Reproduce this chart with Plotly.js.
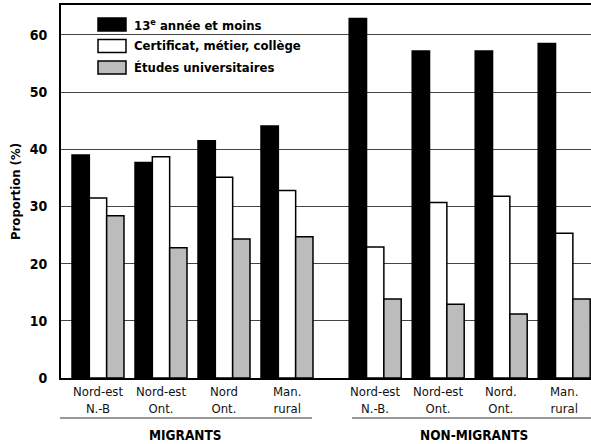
<!DOCTYPE html>
<html>
<head>
<meta charset="utf-8">
<script src="https://cdn.plot.ly/plotly-3.0.1.min.js"></script>
<style>
html,body{margin:0;padding:0;background:#fff;}
#chart{width:591px;height:444px;}
</style>
</head>
<body>
<div id="chart"></div>
<script>
// ---- data ----
const regionLine1 = ["Nord-est","Nord-est","Nord","Man.","Nord-est","Nord-est","Nord.","Man."];
const regionLine2 = ["N.-B","Ont.","Ont.","rural","N.-B.","Ont.","Ont.","rural"];
const xPos = [0, 1, 2, 3, 4.4, 5.4, 6.4, 7.4];
const groupNames = ["MIGRANTS", "NON-MIGRANTS"];
const seriesNames = ["13<sup>e</sup> année et moins", "Certificat, métier, collège", "Études universitaires"];
const secondaire = [39.0, 37.7, 41.5, 44.1, 62.9, 57.2, 57.2, 58.5];
const certificat = [31.5, 38.7, 35.1, 32.8, 22.9, 30.7, 31.8, 25.3];
const universite = [28.4, 22.8, 24.3, 24.7, 13.8, 12.9, 11.2, 13.8];
const yTicks = [0, 10, 20, 30, 40, 50, 60];

// ---- style ----
const FONT = "'DejaVu Sans Condensed', 'Liberation Sans Narrow', 'Arial Narrow', sans-serif";
const fills = ["#000000", "#ffffff", "#bcbcbc"];
const seriesVals = [secondaire, certificat, universite];

const L = 61, T = 5, W = 591, H = 444, B = 378;
const PW = W - L, PH = B - T;
const px2x = p => (p - L) / PW;
const px2y = p => (B - p) / PH;

const traces = seriesVals.map((vals, i) => ({
  type: "bar",
  x: xPos,
  y: vals,
  name: seriesNames[i],
  marker: { color: fills[i], line: { color: "#000", width: 1.5 } },
  showlegend: false,
  hoverinfo: "skip"
}));

const shapes = [];
const annotations = [];

// legend (drawn manually)
const legY = [24.5, 46, 67.5];
seriesNames.forEach((n, i) => {
  shapes.push({ type: "rect", xref: "paper", yref: "paper",
    x0: px2x(98), x1: px2x(126), y0: px2y(legY[i] + 6.5), y1: px2y(legY[i] - 6.5),
    fillcolor: fills[i], line: { color: "#000", width: 1.5 } });
  annotations.push({ xref: "paper", yref: "paper", x: px2x(132), y: px2y(legY[i]),
    xanchor: "left", yanchor: "middle", showarrow: false, text: n,
    font: { family: FONT, size: 13, color: "#000", weight: "bold" } });
});

// two-line category labels
xPos.forEach((x, i) => {
  annotations.push({ xref: "x", yref: "paper", x: x, y: px2y(399.5), xanchor: "center", yanchor: "middle",
    showarrow: false, text: regionLine1[i] + "<br>" + regionLine2[i],
    font: { family: FONT, size: 13, color: "#111" } });
});

// group underlines and group labels
shapes.push({ type: "line", xref: "paper", yref: "paper", x0: px2x(60), x1: px2x(312),
  y0: px2y(418), y1: px2y(418), line: { color: "#333", width: 1.2 } });
shapes.push({ type: "line", xref: "paper", yref: "paper", x0: px2x(352), x1: 1,
  y0: px2y(418), y1: px2y(418), line: { color: "#333", width: 1.2 } });
annotations.push({ xref: "paper", yref: "paper", x: px2x(185), y: px2y(435), xanchor: "center", yanchor: "middle",
  showarrow: false, text: groupNames[0], font: { family: FONT, size: 13.5, color: "#000", weight: "bold" } });
annotations.push({ xref: "paper", yref: "paper", x: px2x(474), y: px2y(435), xanchor: "center", yanchor: "middle",
  showarrow: false, text: groupNames[1], font: { family: FONT, size: 13.5, color: "#000", weight: "bold" } });

const layout = {
  width: W, height: H,
  margin: { l: L, r: 0, t: T, b: H - B, pad: 0 },
  paper_bgcolor: "#fff", plot_bgcolor: "#fff",
  barmode: "group", bargap: 0.175, bargroupgap: 0,
  showlegend: false,
  xaxis: {
    range: [(L - 98) / 63, (W - 98) / 63],
    showticklabels: false, ticks: "", showgrid: false, zeroline: false,
    showline: true, linecolor: "#000", linewidth: 2, mirror: true,
    fixedrange: true, automargin: false
  },
  yaxis: {
    range: [0, (B - T) / 5.717],
    tickvals: yTicks, ticktext: yTicks.map(String),
    ticks: "", ticklabelstandoff: 9,
    tickfont: { family: FONT, size: 14, color: "#000", weight: "bold" },
    showgrid: true, gridcolor: "#444", gridwidth: 1,
    zeroline: false,
    showline: true, linecolor: "#000", linewidth: 2,
    title: { text: "Proportion (%)", standoff: 6,
      font: { family: FONT, size: 13, color: "#000", weight: "bold" } },
    fixedrange: true, automargin: false
  },
  shapes: shapes,
  annotations: annotations,
  font: { family: FONT }
};

Plotly.newPlot("chart", traces, layout, { displayModeBar: false, staticPlot: true });
</script>
</body>
</html>
